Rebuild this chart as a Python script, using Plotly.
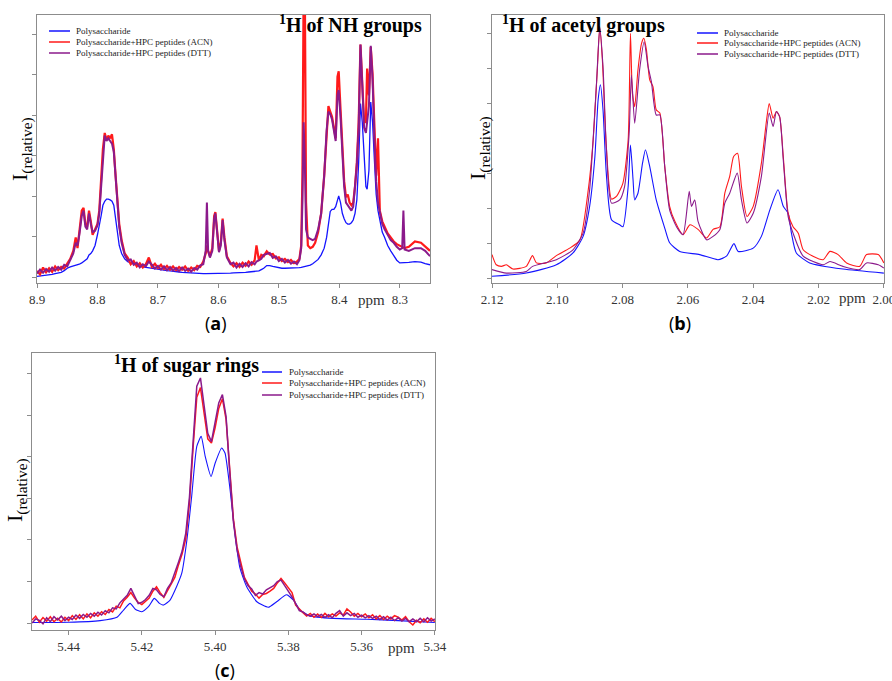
import plotly.graph_objects as go

W, H = 892, 681

# ---------------- Panel (a): 1H of NH groups ----------------
a_ppm = [8.900, 8.895, 8.890, 8.885, 8.880, 8.875, 8.870, 8.865, 8.860, 8.855,
         8.850, 8.845, 8.840, 8.836, 8.833, 8.830, 8.826, 8.823, 8.820, 8.817,
         8.814, 8.811, 8.808, 8.804, 8.800, 8.797, 8.794, 8.791, 8.788, 8.785,
         8.782, 8.779, 8.776, 8.773, 8.770, 8.767, 8.764, 8.760, 8.755, 8.750,
         8.745, 8.740, 8.735, 8.730, 8.725, 8.720, 8.715, 8.710, 8.705, 8.700,
         8.695, 8.690, 8.685, 8.680, 8.675, 8.670, 8.665, 8.660, 8.655, 8.650,
         8.645, 8.640, 8.635, 8.630, 8.625, 8.621, 8.619, 8.617, 8.614, 8.610,
         8.607, 8.605, 8.602, 8.599, 8.596, 8.593, 8.590, 8.586, 8.580, 8.575,
         8.570, 8.565, 8.560, 8.555, 8.550, 8.545, 8.540, 8.537, 8.533, 8.529,
         8.525, 8.520, 8.515, 8.510, 8.505, 8.500, 8.495, 8.490, 8.485, 8.480,
         8.475, 8.470, 8.466, 8.463, 8.461, 8.459, 8.457, 8.455, 8.452, 8.448,
         8.444, 8.440, 8.435, 8.430, 8.425, 8.421, 8.418, 8.415, 8.412, 8.409,
         8.406, 8.403, 8.401, 8.398, 8.395, 8.392, 8.389, 8.386, 8.383, 8.380,
         8.377, 8.374, 8.371, 8.368, 8.365, 8.362, 8.359, 8.356, 8.354, 8.351,
         8.348, 8.345, 8.342, 8.339, 8.336, 8.333, 8.329, 8.325, 8.320, 8.315,
         8.310, 8.305, 8.300, 8.296, 8.294, 8.292, 8.285, 8.275, 8.265, 8.258,
         8.250]
a_poly = [2.5, 2.6, 2.8, 2.9, 3.0, 3.2, 3.5, 3.7, 4.0, 4.6,
          5.5, 6.0, 6.3, 6.6, 6.8, 7.0, 7.5, 8.0, 8.3, 9.0,
          10.5, 11.0, 12.0, 14.0, 18.0, 21.0, 25.0, 29.0, 30.5, 31.3,
          31.3, 31.0, 30.5, 29.0, 24.0, 19.0, 14.0, 11.0, 9.0, 8.0,
          7.5, 7.0, 6.6, 6.3, 6.0, 5.8, 5.6, 5.4, 5.2, 5.0,
          4.9, 4.8, 4.6, 4.5, 4.3, 4.2, 4.1, 4.0, 3.9, 3.8,
          3.7, 3.6, 3.6, 3.5, 3.5, 3.5, 3.5, 3.5, 3.5, 3.6,
          3.6, 3.6, 3.6, 3.6, 3.6, 3.6, 3.7, 3.7, 3.7, 3.8,
          3.8, 3.9, 3.9, 4.0, 4.1, 4.2, 4.3, 4.4, 4.5, 5.0,
          5.5, 6.5, 6.5, 6.2, 5.9, 5.6, 5.5, 5.5, 5.5, 5.5,
          5.5, 5.6, 5.7, 5.8, 5.9, 6.0, 6.1, 6.2, 6.4, 6.7,
          7.2, 7.8, 8.8, 10.5, 13.0, 17.0, 22.0, 26.7, 27.5, 27.5,
          28.5, 31.0, 32.5, 30.0, 26.0, 24.0, 22.5, 22.0, 22.0, 22.5,
          23.5, 26.0, 31.0, 45.0, 67.0, 60.0, 45.0, 36.0, 35.0, 42.0,
          67.5, 60.0, 46.0, 33.0, 27.0, 23.0, 19.0, 17.0, 14.0, 12.0,
          10.0, 8.5, 7.5, 7.5, 7.5, 7.5, 7.7, 8.0, 7.8, 7.2,
          6.8]
a_acn = [4.5, 3.2, 5.8, 4.0, 5.5, 4.2, 6.2, 4.8, 6.0, 5.4,
         7.2, 9.0, 12.0, 17.0, 13.0, 19.0, 27.0, 28.0, 22.0, 21.0,
         27.0, 23.0, 18.0, 20.0, 22.0, 27.0, 38.0, 50.0, 56.0, 53.5,
         55.0, 54.0, 55.5, 50.0, 40.0, 30.0, 22.0, 16.0, 11.0, 9.5,
         7.0, 8.2, 6.2, 7.4, 5.8, 7.0, 9.5, 6.0, 7.2, 5.6,
         6.8, 5.2, 6.4, 5.0, 6.2, 4.8, 6.0, 5.0, 6.2, 4.6,
         5.8, 4.8, 6.4, 6.0, 8.0, 11.0, 14.0, 12.0, 10.0, 13.0,
         25.0, 26.5, 18.0, 12.0, 15.0, 24.0, 17.0, 10.0, 7.5, 6.2,
         7.4, 6.0, 7.6, 6.4, 8.0, 6.8, 8.5, 14.0, 8.5, 10.5,
         10.0, 11.8, 10.6, 10.8, 9.2, 9.6, 8.2, 9.0, 7.8, 8.6,
         7.4, 8.0, 9.0, 14.0, 40.0, 110.0, 110.0, 30.0, 14.0, 13.0,
         13.5, 15.0, 19.0, 26.0, 40.0, 58.0, 66.0, 64.0, 62.0, 58.0,
         54.0, 77.0, 79.0, 65.0, 50.0, 38.0, 32.0, 33.0, 30.0, 29.0,
         30.0, 36.0, 45.0, 60.0, 89.0, 75.0, 60.0, 60.0, 80.0, 70.0,
         88.0, 78.0, 55.0, 40.0, 54.0, 27.0, 23.0, 21.0, 18.5, 17.0,
         15.5, 14.5, 14.0, 13.5, 13.5, 13.0, 13.5, 15.5, 15.0, 13.5,
         12.0]
a_dtt = [3.5, 5.0, 3.8, 5.2, 4.2, 5.8, 4.6, 6.0, 5.0, 6.8,
         6.2, 8.5, 11.0, 15.0, 14.0, 18.0, 25.0, 27.0, 21.0, 20.0,
         26.0, 22.0, 19.0, 19.5, 21.5, 26.0, 36.0, 48.0, 55.0, 53.0,
         54.0, 53.0, 52.0, 49.0, 39.0, 29.0, 21.0, 15.0, 10.5, 8.5,
         8.8, 6.8, 7.6, 5.8, 7.0, 6.2, 8.0, 6.8, 5.4, 6.4,
         5.0, 6.2, 4.8, 6.0, 4.6, 5.6, 4.4, 5.8, 4.5, 5.4,
         4.2, 5.6, 5.0, 6.6, 7.0, 12.0, 30.0, 12.0, 9.5, 12.0,
         24.0, 26.0, 17.0, 11.5, 14.0, 23.5, 16.0, 9.5, 7.0, 7.6,
         5.8, 7.2, 6.0, 7.4, 6.2, 7.8, 7.0, 8.0, 8.4, 9.0,
         10.5, 10.8, 11.2, 9.4, 10.0, 8.2, 9.0, 7.6, 8.6, 7.2,
         8.0, 7.0, 8.5, 13.0, 30.0, 60.0, 45.0, 20.0, 17.0, 16.5,
         16.0, 16.5, 20.0, 26.0, 40.0, 57.0, 64.0, 63.0, 61.0, 57.0,
         53.0, 70.0, 72.0, 62.0, 48.0, 36.0, 30.0, 29.0, 28.0, 27.0,
         28.5, 35.0, 44.0, 58.0, 89.0, 74.0, 58.0, 56.0, 60.0, 66.0,
         88.5, 76.0, 54.0, 38.0, 30.0, 26.0, 22.0, 20.0, 18.0, 16.0,
         15.0, 13.5, 12.5, 13.0, 27.0, 12.5, 12.0, 13.0, 13.0, 12.0,
         10.0]

# ---------------- Panel (b): 1H of acetyl groups ----------------
b_ppm_poly = [2.1200, 2.1095, 2.1003, 2.0952, 2.0921, 2.0901, 2.0885, 2.0875, 2.0868, 2.0860,
              2.0850, 2.0834, 2.0809, 2.0799, 2.0783, 2.0776, 2.0768, 2.0763, 2.0753, 2.0739,
              2.0730, 2.0717, 2.0697, 2.0671, 2.0656, 2.0625, 2.0564, 2.0508, 2.0482, 2.0459,
              2.0446, 2.0400, 2.0375, 2.0349, 2.0324, 2.0308, 2.0293, 2.0283, 2.0268, 2.0227,
              2.0125, 2.0000]
b_poly = [2.5, 3.7, 6.8, 11.2, 17.4, 28.6, 47.0, 68.3, 74.0, 64.6,
          41.0, 23.6, 21.7, 21.0, 36.0, 51.5, 38.5, 31.0, 33.5, 44.7,
          49.7, 43.5, 31.0, 20.5, 15.0, 11.8, 10.6, 8.7, 10.0, 14.7,
          11.8, 13.0, 17.4, 27.3, 34.8, 28.6, 26.0, 18.6, 11.2, 7.5,
          5.2, 3.7]
b_ppm_acn = [2.1200, 2.1187, 2.1171, 2.1156, 2.1136, 2.1095, 2.1076, 2.1064, 2.1034, 2.1003,
             2.0962, 2.0931, 2.0906, 2.0891, 2.0878, 2.0870, 2.0862, 2.0850, 2.0834, 2.0819,
             2.0799, 2.0783, 2.0776, 2.0770, 2.0763, 2.0753, 2.0742, 2.0735, 2.0727, 2.0717,
             2.0707, 2.0697, 2.0686, 2.0671, 2.0656, 2.0640, 2.0615, 2.0594, 2.0569, 2.0543,
             2.0523, 2.0502, 2.0487, 2.0472, 2.0460, 2.0448, 2.0436, 2.0419, 2.0400, 2.0375,
             2.0359, 2.0351, 2.0339, 2.0329, 2.0319, 2.0308, 2.0293, 2.0278, 2.0262, 2.0247,
             2.0217, 2.0186, 2.0165, 2.0140, 2.0114, 2.0074, 2.0053, 2.0017, 2.0000]
b_acn = [10.6, 6.8, 6.2, 6.8, 5.2, 6.2, 10.2, 7.5, 7.5, 10.2,
         13.0, 16.0, 34.0, 52.0, 78.3, 95.7, 83.2, 51.0, 31.3, 32.3,
         37.3, 53.4, 93.2, 70.8, 65.8, 79.5, 89.4, 91.3, 87.0, 75.8,
         73.3, 64.6, 63.4, 43.5, 28.6, 23.0, 18.0, 21.7, 20.0, 16.8,
         20.0, 21.0, 33.5, 39.8, 47.2, 48.4, 36.0, 24.8, 28.6, 44.7,
         60.9, 67.0, 61.5, 64.0, 62.0, 47.2, 26.0, 21.0, 18.6, 12.4,
         10.0, 8.7, 11.8, 10.6, 7.5, 6.2, 10.6, 10.6, 7.5]
b_ppm_dtt = [2.1200, 2.1156, 2.1095, 2.1076, 2.1003, 2.0952, 2.0921, 2.0901, 2.0880, 2.0870,
             2.0860, 2.0850, 2.0834, 2.0809, 2.0794, 2.0780, 2.0773, 2.0763, 2.0748, 2.0734,
             2.0722, 2.0712, 2.0697, 2.0686, 2.0671, 2.0656, 2.0635, 2.0615, 2.0596, 2.0589,
             2.0579, 2.0569, 2.0543, 2.0523, 2.0502, 2.0487, 2.0472, 2.0449, 2.0436, 2.0419,
             2.0400, 2.0375, 2.0351, 2.0339, 2.0329, 2.0319, 2.0308, 2.0293, 2.0278, 2.0247,
             2.0186, 2.0165, 2.0125, 2.0074, 2.0053, 2.0017, 2.0000]
b_dtt = [5.0, 3.7, 4.3, 6.2, 8.7, 12.4, 18.6, 34.8, 74.5, 95.0,
         80.7, 51.0, 29.8, 31.0, 36.0, 55.9, 77.6, 59.6, 79.5, 90.0,
         80.7, 75.2, 62.7, 62.7, 43.5, 27.3, 21.0, 18.0, 34.2, 28.6,
         31.0, 23.0, 16.1, 17.4, 20.0, 29.8, 33.5, 41.0, 31.0, 22.4,
         26.0, 39.8, 63.4, 58.4, 64.0, 62.0, 46.0, 24.8, 18.6, 10.0,
         6.8, 8.0, 6.2, 5.0, 7.5, 6.8, 5.6]

# ---------------- Panel (c): 1H of sugar rings ----------------
c_ppm_poly = [5.4500, 5.4400, 5.4314, 5.4268, 5.4250, 5.4232, 5.4218, 5.4200, 5.4182, 5.4166,
              5.4152, 5.4141, 5.4123, 5.4105, 5.4091, 5.4077, 5.4064, 5.4050, 5.4038, 5.4027,
              5.4011, 5.4000, 5.3982, 5.3973, 5.3959, 5.3945, 5.3932, 5.3914, 5.3886, 5.3855,
              5.3832, 5.3805, 5.3786, 5.3768, 5.3741, 5.3677, 5.3586, 5.3500, 5.3400]
c_poly = [2.7, 2.8, 3.4, 4.6, 7.2, 9.6, 7.5, 6.6, 8.4, 11.4,
          9.6, 9.0, 10.8, 15.7, 20.5, 32.5, 48.2, 66.3, 69.9, 62.7,
          55.4, 60.2, 65.7, 63.9, 50.6, 33.7, 22.3, 15.7, 10.2, 8.2,
          10.2, 12.7, 10.8, 7.2, 5.1, 4.2, 3.9, 3.4, 2.7]
c_ppm = [5.450, 5.449, 5.448, 5.447, 5.446, 5.445, 5.444, 5.443, 5.442, 5.441,
         5.440, 5.439, 5.438, 5.437, 5.436, 5.435, 5.434, 5.433, 5.432, 5.431,
         5.430, 5.429, 5.428, 5.427, 5.426, 5.425, 5.424, 5.423, 5.422, 5.421,
         5.420, 5.419, 5.418, 5.417, 5.416, 5.415, 5.414, 5.413, 5.412, 5.411,
         5.410, 5.409, 5.408, 5.407, 5.406, 5.405, 5.404, 5.403, 5.402, 5.401,
         5.400, 5.399, 5.398, 5.397, 5.396, 5.395, 5.394, 5.393, 5.392, 5.391,
         5.390, 5.389, 5.388, 5.387, 5.386, 5.385, 5.384, 5.383, 5.382, 5.381,
         5.380, 5.379, 5.378, 5.377, 5.376, 5.375, 5.374, 5.373, 5.372, 5.371,
         5.370, 5.369, 5.368, 5.367, 5.366, 5.365, 5.364, 5.363, 5.362, 5.361,
         5.360, 5.359, 5.358, 5.357, 5.356, 5.355, 5.354, 5.353, 5.352, 5.351,
         5.350, 5.349, 5.348, 5.347, 5.346, 5.345, 5.344, 5.343, 5.342, 5.341,
         5.340]
c_acn = [3.6, 5.0, 2.8, 4.5, 3.2, 4.8, 3.0, 4.2, 2.9, 4.6,
         3.4, 5.2, 3.8, 5.5, 4.0, 5.8, 4.4, 6.2, 5.0, 6.6,
         5.6, 7.4, 6.5, 8.6, 8.0, 10.5, 11.8, 13.5, 11.5, 10.0,
         9.2, 10.2, 11.5, 14.0, 15.6, 13.5, 11.8, 14.2, 16.5, 19.0,
         23.5, 27.5, 33.0, 46.0, 66.0, 84.0, 87.5, 78.0, 69.0, 67.5,
         73.0, 80.0, 83.5, 76.0, 58.0, 40.0, 30.0, 24.0, 19.0, 16.5,
         14.0, 13.0, 11.5, 12.8, 13.2, 14.0, 15.0, 17.0, 18.6, 17.0,
         15.2, 13.5, 9.0, 7.5, 6.2, 5.0, 6.0, 4.6, 5.8, 4.5,
         6.0, 4.8, 5.8, 5.0, 6.2, 5.4, 7.6, 6.5, 5.0, 6.0,
         4.8, 5.8, 4.4, 5.5, 4.0, 5.2, 3.8, 5.0, 4.0, 5.2,
         4.6, 3.6, 4.8, 3.0, 1.8, 3.5, 2.6, 4.0, 2.8, 4.2,
         3.0]
c_dtt = [2.5, 4.0, 3.5, 2.2, 4.4, 3.0, 4.8, 3.6, 5.0, 3.4,
         4.6, 3.8, 5.4, 4.2, 5.6, 4.6, 6.0, 5.0, 6.4, 5.4,
         7.0, 6.2, 8.0, 7.6, 9.8, 11.0, 12.5, 15.0, 12.0, 9.5,
         10.0, 11.0, 12.5, 15.0, 14.5, 12.8, 12.0, 15.0, 17.0, 20.5,
         24.5, 28.5, 35.0, 48.0, 68.0, 88.0, 91.0, 80.0, 71.0, 68.0,
         75.0, 82.0, 85.0, 77.0, 57.0, 39.0, 29.0, 23.0, 18.5, 16.0,
         14.8, 12.5, 13.5, 13.0, 14.5, 15.2, 16.0, 17.5, 18.0, 16.0,
         14.0, 12.0, 9.5, 7.0, 6.5, 5.5, 5.0, 5.8, 4.8, 5.6,
         4.6, 5.5, 4.4, 6.0, 7.0, 5.0, 6.2, 5.2, 6.0, 4.6,
         5.4, 4.4, 5.2, 4.2, 5.0, 3.8, 4.8, 3.6, 4.6, 3.4,
         4.4, 3.2, 4.2, 3.0, 4.0, 3.0, 4.2, 3.0, 4.4, 3.2,
         4.0]

series_names = ["Polysaccharide", "Polysaccharide+HPC peptides (ACN)",
                "Polysaccharide+HPC peptides (DTT)"]
series_colors = ["#1414ff", "#ff1a1a", "#8b1a8b"]
panel_titles = ["<b><sup>1</sup>H of NH groups</b>", "<b><sup>1</sup>H of acetyl groups</b>",
                "<b><sup>1</sup>H of sugar rings</b>"]
panel_labels = ["(<b>a</b>)", "(<b>b</b>)", "(<b>c</b>)"]

for arr_x, arrs in [(a_ppm, [a_poly, a_acn, a_dtt]), (c_ppm, [c_acn, c_dtt]),
                    (b_ppm_poly, [b_poly]), (b_ppm_acn, [b_acn]), (b_ppm_dtt, [b_dtt]),
                    (c_ppm_poly, [c_poly])]:
    for a in arrs:
        assert len(a) == len(arr_x), (len(a), len(arr_x))


def fx(p):
    return p / W


def fy(p):
    return 1 - p / H


fig = go.Figure()

# panel a
fig.add_trace(go.Scatter(x=a_ppm, y=a_poly, mode="lines", line=dict(color=series_colors[0], width=1.3),
                         xaxis="x", yaxis="y", showlegend=False))
fig.add_trace(go.Scatter(x=a_ppm, y=a_acn, mode="lines", line=dict(color=series_colors[1], width=2.2),
                         xaxis="x", yaxis="y", showlegend=False))
fig.add_trace(go.Scatter(x=a_ppm, y=a_dtt, mode="lines", line=dict(color=series_colors[2], width=2.0),
                         xaxis="x", yaxis="y", showlegend=False))
# panel b
fig.add_trace(go.Scatter(x=b_ppm_poly, y=b_poly, mode="lines",
                         line=dict(color=series_colors[0], width=1.1, shape="spline", smoothing=0.6),
                         xaxis="x2", yaxis="y2", showlegend=False))
fig.add_trace(go.Scatter(x=b_ppm_acn, y=b_acn, mode="lines",
                         line=dict(color=series_colors[1], width=1.1, shape="spline", smoothing=0.6),
                         xaxis="x2", yaxis="y2", showlegend=False))
fig.add_trace(go.Scatter(x=b_ppm_dtt, y=b_dtt, mode="lines",
                         line=dict(color=series_colors[2], width=1.1, shape="spline", smoothing=0.6),
                         xaxis="x2", yaxis="y2", showlegend=False))
# panel c
fig.add_trace(go.Scatter(x=c_ppm_poly, y=c_poly, mode="lines",
                         line=dict(color=series_colors[0], width=1.1, shape="spline", smoothing=0.5),
                         xaxis="x3", yaxis="y3", showlegend=False))
fig.add_trace(go.Scatter(x=c_ppm, y=c_acn, mode="lines", line=dict(color=series_colors[1], width=1.5),
                         xaxis="x3", yaxis="y3", showlegend=False))
fig.add_trace(go.Scatter(x=c_ppm, y=c_dtt, mode="lines", line=dict(color=series_colors[2], width=1.5),
                         xaxis="x3", yaxis="y3", showlegend=False))

serif = "Liberation Serif, Times New Roman, serif"
tickfont = dict(family=serif, size=13, color="#333333")
axcommon = dict(showline=True, linecolor="#8c8c8c", linewidth=1, mirror=True, showgrid=False,
                zeroline=False, ticks="outside", ticklen=4, tickcolor="#8c8c8c", tickfont=tickfont)

fig.update_layout(
    width=W, height=H, margin=dict(l=0, r=0, t=0, b=0, autoexpand=False),
    paper_bgcolor="white", plot_bgcolor="white",
    xaxis=dict(domain=[fx(37), fx(430)], range=[8.9, 8.25], tick0=8.9, dtick=0.1,
               tickformat=".1f", anchor="y", ticklabeloverflow="allow", **axcommon),
    yaxis=dict(domain=[fy(283), fy(15)], range=[0, 100], tick0=2.2, dtick=15.1,
               showticklabels=False, anchor="x", **axcommon),
    xaxis2=dict(domain=[fx(492), fx(884)], range=[2.12, 1.99995], tick0=2.12, dtick=0.02,
                tickformat=".2f", anchor="y2", ticklabeloverflow="allow", **axcommon),
    yaxis2=dict(domain=[fy(283), fy(15)], range=[0, 100], tick0=1.5, dtick=13.1,
                showticklabels=False, anchor="x2", **axcommon),
    xaxis3=dict(domain=[fx(32), fx(435)], range=[5.45, 5.33995], tick0=5.44, dtick=0.02,
                tickformat=".2f", anchor="y3", ticklabeloverflow="allow", **axcommon),
    yaxis3=dict(domain=[fy(630), fy(353)], range=[0, 100], tick0=2.5, dtick=15.0,
                showticklabels=False, anchor="x3", **axcommon),
)

ann = []
shapes = []

# titles
for (cx, cy), t in zip([(350, 25), (583, 25), (186, 364)], panel_titles):
    ann.append(dict(x=fx(cx), y=fy(cy), xref="paper", yref="paper", text=t, showarrow=False,
                    xanchor="center", yanchor="middle", font=dict(family=serif, size=20, color="black")))

# panel labels
for (cx, cy), t in zip([(216, 323), (680, 323), (225, 670)], panel_labels):
    ann.append(dict(x=fx(cx), y=fy(cy), xref="paper", yref="paper", text=t, showarrow=False,
                    xanchor="center", yanchor="middle", font=dict(family="Open Sans", size=18, color="black")))

# y-axis titles
for cx, cy in [(21, 149), (479, 148), (16, 490)]:
    ann.append(dict(x=fx(cx), y=fy(cy), xref="paper", yref="paper", text="I<sub>(relative)</sub>",
                    textangle=-90, showarrow=False, xanchor="center", yanchor="middle",
                    font=dict(family=serif, size=22, color="black")))

# ppm labels
for cx, cy in [(371, 300), (852, 298), (401, 648)]:
    ann.append(dict(x=fx(cx), y=fy(cy), xref="paper", yref="paper", text="ppm", showarrow=False,
                    xanchor="center", yanchor="middle", font=dict(family=serif, size=15, color="#333333")))

# legends
for (lx0, lx1, tx, rows) in [(49, 70, 74, [31, 42, 53]), (697, 718, 722, [33, 43, 54]),
                             (262, 282, 287, [372, 383, 395])]:
    for name, col, ry in zip(series_names, series_colors, rows):
        shapes.append(dict(type="line", xref="paper", yref="paper", x0=fx(lx0), x1=fx(lx1),
                           y0=fy(ry), y1=fy(ry), line=dict(color=col, width=1.5)))
        ann.append(dict(x=fx(tx), y=fy(ry), xref="paper", yref="paper", text=name, showarrow=False,
                        xanchor="left", yanchor="middle", font=dict(family=serif, size=9, color="#222222")))

fig.update_layout(annotations=ann, shapes=shapes)
# remove the browser's default 8px page margin so the 892x681 figure fills the window exactly
fig.write_html("out.html", config={"displayModeBar": False},
               post_script="document.body.style.margin='0px';")
